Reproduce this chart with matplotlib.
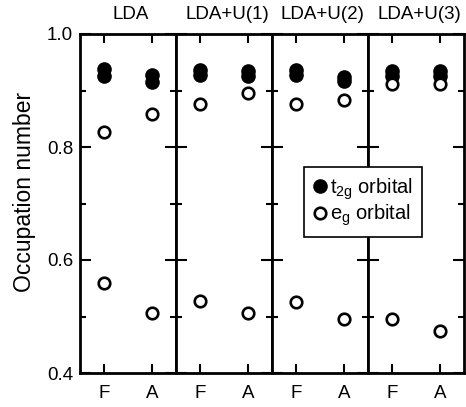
import matplotlib
matplotlib.use("Agg")
import matplotlib.pyplot as plt
from matplotlib.lines import Line2D
from matplotlib.ticker import FixedLocator

plt.rcParams['font.family'] = ['Liberation Sans', 'DejaVu Sans']
plt.rcParams['mathtext.fontset'] = 'custom'
plt.rcParams['mathtext.rm'] = 'Liberation Sans'
plt.rcParams['mathtext.it'] = 'Liberation Sans:italic'

methods = ["LDA", "LDA+U(1)", "LDA+U(2)", "LDA+U(3)"]
configs = ["F", "A"]
t2g_upper = [[0.938, 0.928], [0.936, 0.935], [0.936, 0.924], [0.935, 0.935]]
t2g_lower = [[0.926, 0.915], [0.927, 0.925], [0.927, 0.916], [0.926, 0.926]]
eg_upper = [[0.827, 0.858], [0.876, 0.895], [0.876, 0.884], [0.912, 0.912]]
eg_lower = [[0.559, 0.507], [0.527, 0.506], [0.525, 0.496], [0.495, 0.474]]

W, H = 466, 407
fig = plt.figure(figsize=(W / 100, H / 100), dpi=100)
left, right, top, bottom = 80, 464, 34, 373
axes = fig.subplots(1, 4, sharey=True,
                    gridspec_kw=dict(left=left / W, right=right / W,
                                     top=1 - top / H, bottom=1 - bottom / H,
                                     wspace=0))
xpos = [0.25, 0.75]
for i, ax in enumerate(axes):
    ax.plot(xpos, t2g_upper[i], 'o', color='black', ms=9.5, zorder=3, clip_on=False)
    ax.plot(xpos, t2g_lower[i], 'o', color='black', ms=9.5, zorder=3, clip_on=False)
    for vals in (eg_upper[i], eg_lower[i]):
        ax.plot(xpos, vals, 'o', mfc='white', mec='black', mew=1.9, ms=8.3,
                zorder=4, clip_on=False)
    ax.set_xlim(0, 1)
    ax.set_ylim(0.4, 1.0)
    ax.set_xticks(xpos)
    ax.set_xticklabels(configs, fontsize=13.5)
    ax.yaxis.set_major_locator(FixedLocator([0.4, 0.6, 0.8, 1.0]))
    ax.yaxis.set_minor_locator(FixedLocator([0.5, 0.7, 0.9]))
    ax.tick_params(axis='x', direction='in', top=True, bottom=True,
                   length=6.5, width=1.5, pad=9)
    ax.tick_params(axis='y', which='major', direction='in', left=True, right=True,
                   length=8, width=1.5, pad=5, labelsize=13.5)
    ax.tick_params(axis='y', which='minor', direction='in', left=True, right=True,
                   length=4.5, width=1.5)
    for s in ax.spines.values():
        s.set_linewidth(2.0)
    ax.set_title(methods[i], fontsize=13.5, pad=10.5, x=0.53)
    if i > 0:
        ax.tick_params(axis='y', labelleft=False)

axes[0].set_yticklabels(["0.4", "0.6", "0.8", "1.0"])
fig.text(25 / W, 1 - 192 / H, "Occupation number", rotation=90,
         ha='center', va='center', fontsize=16.5)

handles = [
    Line2D([], [], ls='none', marker='o', color='black', ms=9.5),
    Line2D([], [], ls='none', marker='o', mfc='white', mec='black', mew=1.9, ms=8.3),
]
labels = [r"t$_{\mathrm{2g}}$ orbital", r"e$_{\mathrm{g}}$ orbital"]
leg = fig.legend(handles, labels, loc='upper left',
                 bbox_to_anchor=(304 / W, 1 - 167 / H),
                 fontsize=14.5, frameon=True, fancybox=False,
                 edgecolor='black', framealpha=1, handlelength=0.7,
                 handletextpad=0.15, borderpad=0.45, labelspacing=0.05,
                 borderaxespad=0)
leg.get_frame().set_linewidth(1.2)

fig.savefig("out.png", dpi=100)
